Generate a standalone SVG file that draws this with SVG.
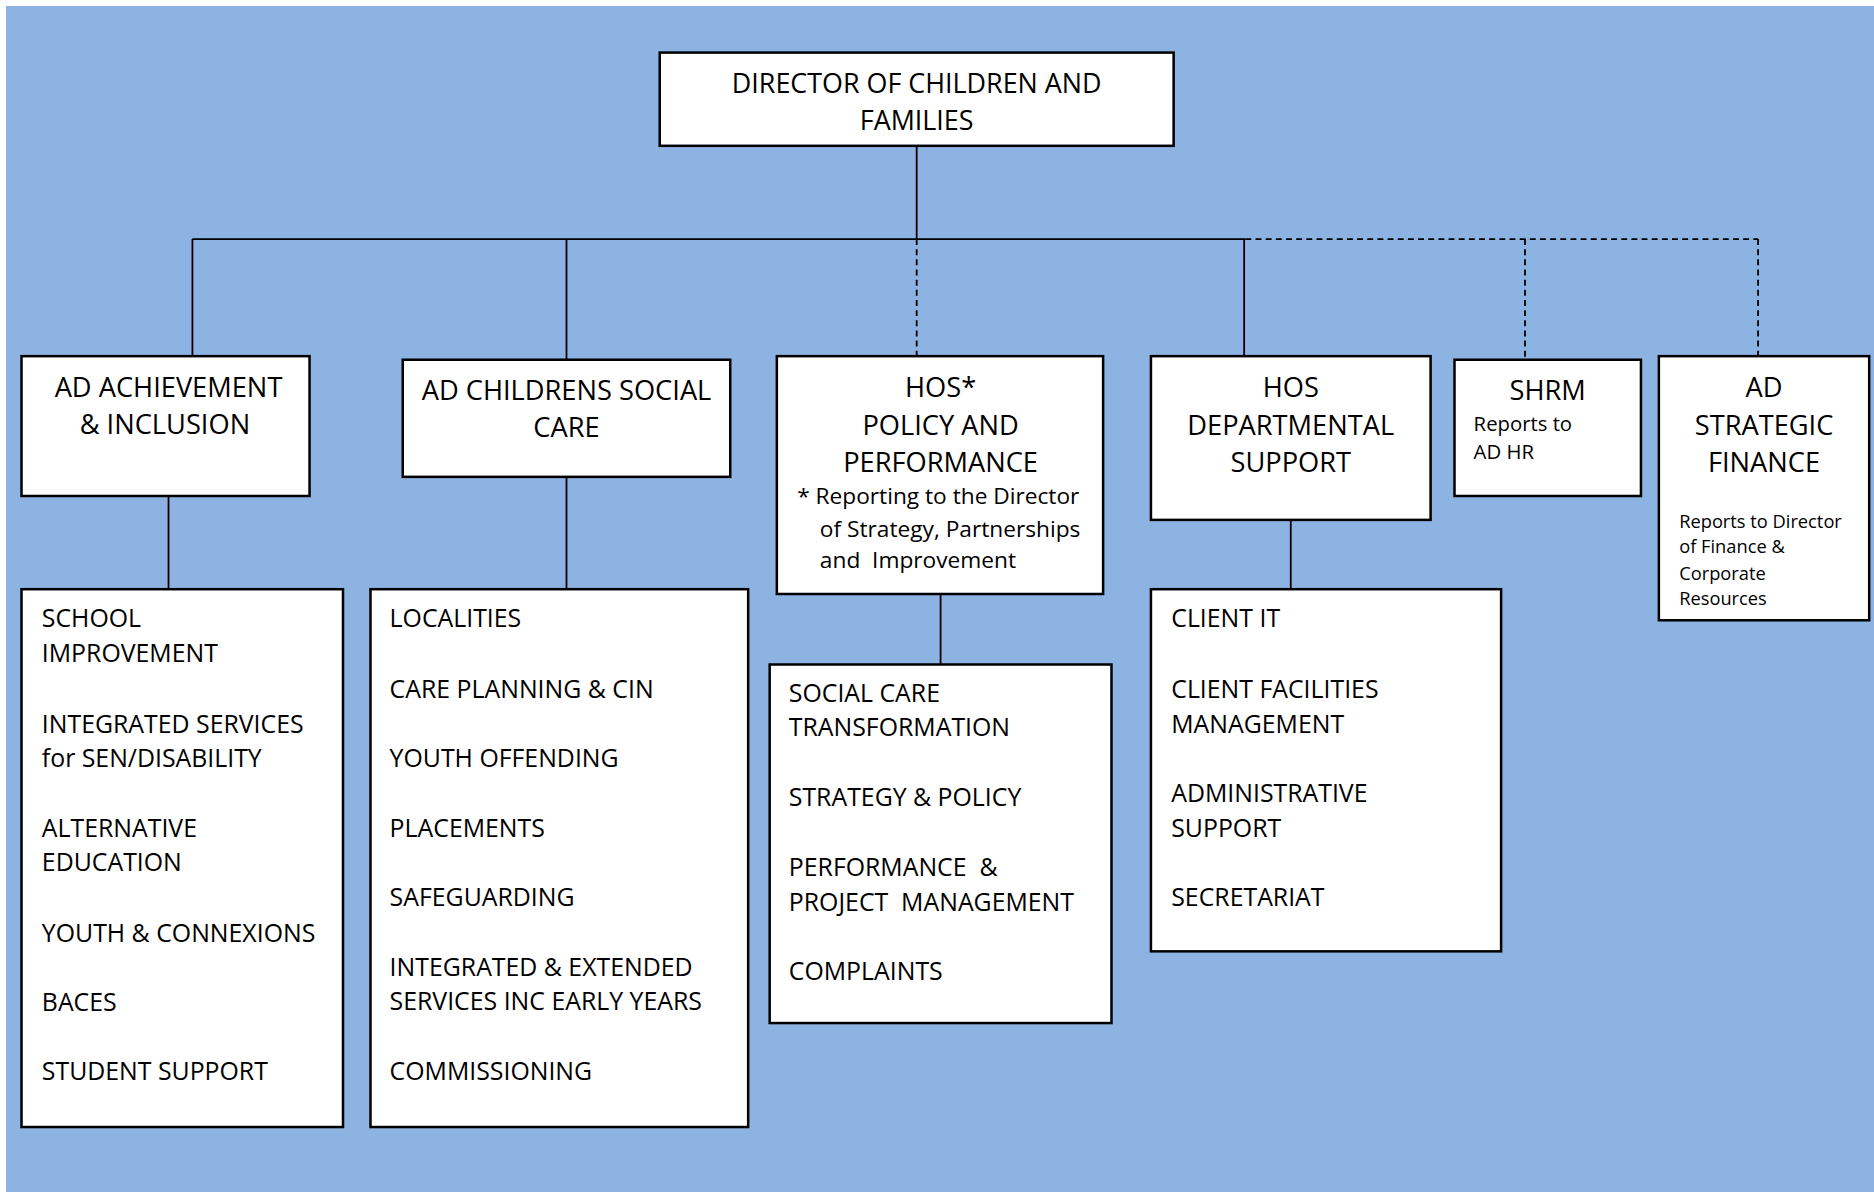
<svg xmlns="http://www.w3.org/2000/svg" width="1874" height="1194" viewBox="0 0 1874 1194">
<style>
.box{fill:#ffffff;stroke:#000000;stroke-width:2.1}
.ln{fill:none;stroke:#000000;stroke-width:1.5}
.dash{fill:none;stroke:#000000;stroke-width:1.5;stroke-dasharray:5 3.5}
text{font-family:"Open Sans","Noto Sans","DejaVu Sans",sans-serif;fill:#000000}
.h{font-size:22.8px;text-anchor:middle}
.d{font-size:22.5px;text-anchor:middle}
.i{font-size:20.8px}
.s{font-size:19px}
.r{font-size:17px}
.f{font-size:15.3px}
</style>
<rect x="6" y="6" width="1868" height="1186" fill="#8DB3E2"/>
<g transform="scale(1.19515)">
<g id="connectors">
<line class="ln" x1="767" y1="122" x2="767" y2="200"/>
<line class="ln" x1="161" y1="200" x2="1042" y2="200"/>
<line class="dash" x1="1042" y1="200" x2="1471" y2="200"/>
<line class="ln" x1="161" y1="200" x2="161" y2="298"/>
<line class="ln" x1="474" y1="200" x2="474" y2="301"/>
<line class="dash" x1="767" y1="200" x2="767" y2="298"/>
<line class="ln" x1="1041" y1="200" x2="1041" y2="298"/>
<line class="dash" x1="1276" y1="200" x2="1276" y2="301"/>
<line class="dash" x1="1471" y1="200" x2="1471" y2="298"/>
<line class="ln" x1="141" y1="415" x2="141" y2="493"/>
<line class="ln" x1="474" y1="397" x2="474" y2="493"/>
<line class="ln" x1="787" y1="497" x2="787" y2="556"/>
<line class="ln" x1="1080" y1="435" x2="1080" y2="493"/>
</g>
<g id="director">
<rect class="box" x="552" y="44" width="430" height="78"/>
<text class="d" x="767" y="78">DIRECTOR OF CHILDREN AND</text>
<text class="d" x="767" y="109">FAMILIES</text>
</g>
<g id="ad-achievement">
<rect class="box" x="18" y="298" width="241" height="117"/>
<text class="h" x="141" y="332">AD ACHIEVEMENT</text>
<text class="h" x="138" y="363">&amp; INCLUSION</text>
</g>
<g id="ad-childrens">
<rect class="box" x="337" y="301" width="274" height="98"/>
<text class="h" x="474" y="335">AD CHILDRENS SOCIAL</text>
<text class="h" x="474" y="366">CARE</text>
</g>
<g id="hos-policy">
<rect class="box" x="650" y="298" width="273" height="199"/>
<text class="h" x="787" y="332">HOS*</text>
<text class="h" x="787" y="364">POLICY AND</text>
<text class="h" x="787" y="395">PERFORMANCE</text>
<text class="s" x="667" y="422">* Reporting to the Director</text>
<text class="s" x="686" y="449">of Strategy, Partnerships</text>
<text class="s" x="686" y="475" xml:space="preserve">and  Improvement</text>
</g>
<g id="hos-dept">
<rect class="box" x="963" y="298" width="234" height="137"/>
<text class="h" x="1080" y="332">HOS</text>
<text class="h" x="1080" y="364">DEPARTMENTAL</text>
<text class="h" x="1080" y="395">SUPPORT</text>
</g>
<g id="shrm">
<rect class="box" x="1217" y="301" width="156" height="114"/>
<text class="h" x="1295" y="335">SHRM</text>
<text class="r" x="1233" y="361">Reports to</text>
<text class="r" x="1233" y="384">AD HR</text>
</g>
<g id="ad-finance">
<rect class="box" x="1388" y="298" width="176" height="221"/>
<text class="h" x="1476" y="332">AD</text>
<text class="h" x="1476" y="364">STRATEGIC</text>
<text class="h" x="1476" y="395">FINANCE</text>
<text class="f" x="1405" y="442">Reports to Director</text>
<text class="f" x="1405" y="463">of Finance &amp;</text>
<text class="f" x="1405" y="485">Corporate</text>
<text class="f" x="1405" y="506">Resources</text>
</g>
<g id="achievement-teams">
<rect class="box" x="18" y="493" width="269" height="450"/>
<text class="i" x="35" y="525">SCHOOL</text>
<text class="i" x="35" y="554">IMPROVEMENT</text>
<text class="i" x="35" y="613">INTEGRATED SERVICES</text>
<text class="i" x="35" y="642">for SEN/DISABILITY</text>
<text class="i" x="35" y="700">ALTERNATIVE</text>
<text class="i" x="35" y="729">EDUCATION</text>
<text class="i" x="35" y="788">YOUTH &amp; CONNEXIONS</text>
<text class="i" x="35" y="846">BACES</text>
<text class="i" x="35" y="904">STUDENT SUPPORT</text>
</g>
<g id="social-care-teams">
<rect class="box" x="310" y="493" width="316" height="450"/>
<text class="i" x="326" y="525">LOCALITIES</text>
<text class="i" x="326" y="584">CARE PLANNING &amp; CIN</text>
<text class="i" x="326" y="642">YOUTH OFFENDING</text>
<text class="i" x="326" y="700">PLACEMENTS</text>
<text class="i" x="326" y="758">SAFEGUARDING</text>
<text class="i" x="326" y="817">INTEGRATED &amp; EXTENDED</text>
<text class="i" x="326" y="845">SERVICES INC EARLY YEARS</text>
<text class="i" x="326" y="904">COMMISSIONING</text>
</g>
<g id="policy-teams">
<rect class="box" x="644" y="556" width="286" height="300"/>
<text class="i" x="660" y="587">SOCIAL CARE</text>
<text class="i" x="660" y="616">TRANSFORMATION</text>
<text class="i" x="660" y="674">STRATEGY &amp; POLICY</text>
<text class="i" x="660" y="733" xml:space="preserve">PERFORMANCE  &amp;</text>
<text class="i" x="660" y="762" xml:space="preserve">PROJECT  MANAGEMENT</text>
<text class="i" x="660" y="820">COMPLAINTS</text>
</g>
<g id="dept-support-teams">
<rect class="box" x="963" y="493" width="293" height="303"/>
<text class="i" x="980" y="525">CLIENT IT</text>
<text class="i" x="980" y="584">CLIENT FACILITIES</text>
<text class="i" x="980" y="613">MANAGEMENT</text>
<text class="i" x="980" y="671">ADMINISTRATIVE</text>
<text class="i" x="980" y="700">SUPPORT</text>
<text class="i" x="980" y="758">SECRETARIAT</text>
</g>
</g>
</svg>
